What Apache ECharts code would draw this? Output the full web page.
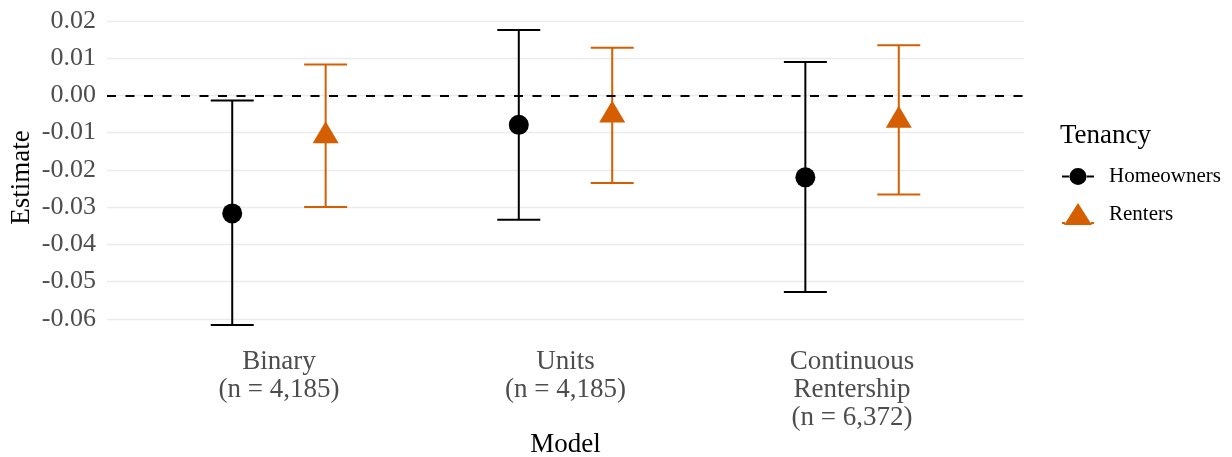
<!DOCTYPE html>
<html>
<head>
<meta charset="utf-8">
<script src="https://cdn.jsdelivr.net/npm/echarts@6/dist/echarts.min.js"></script>
<style>html,body{margin:0;padding:0;background:#fff}#c{width:1232px;height:457px}</style>
</head>
<body>
<div id="c"></div>
<script>
const categories = ['Binary\n(n = 4,185)', 'Units\n(n = 4,185)', 'Continuous\nRentership\n(n = 6,372)'];
const homeEst  = [-0.0317, -0.0079, -0.0220];
const homeLow  = [-0.0617, -0.0334, -0.0528];
const homeHigh = [-0.0014,  0.0176,  0.0090];
const rentEst  = [-0.0110, -0.0054, -0.0068];
const rentLow  = [-0.0300, -0.0235, -0.0266];
const rentHigh = [ 0.0083,  0.0128,  0.0135];
const yTicks = [-0.06, -0.05, -0.04, -0.03, -0.02, -0.01, 0, 0.01, 0.02];
const xTicks = [1, 2, 3];

const DODGE = 0.163;
const CAP = 0.075;
const FONT = '"Liberation Serif", "DejaVu Serif", serif';
const ORANGE = '#D55E00';

function errData(lo, hi, off) {
  return categories.map((c, i) => [i + 1 + off, lo[i], hi[i]]);
}
function ptData(est, off) {
  return categories.map((c, i) => [i + 1 + off, est[i]]);
}
function errRender(color) {
  return function (params, api) {
    const x = api.value(0);
    const top = api.coord([x, api.value(2)]);
    const bot = api.coord([x, api.value(1)]);
    const hw = api.size([CAP, 0])[0];
    const st = { stroke: color, lineWidth: 2 };
    return { type: 'group', children: [
      { type: 'line', shape: { x1: top[0], y1: top[1], x2: bot[0], y2: bot[1] }, style: st },
      { type: 'line', shape: { x1: top[0] - hw, y1: top[1], x2: top[0] + hw, y2: top[1] }, style: st },
      { type: 'line', shape: { x1: bot[0] - hw, y1: bot[1], x2: bot[0] + hw, y2: bot[1] }, style: st }
    ]};
  };
}

const chart = echarts.init(document.getElementById('c'), null, { renderer: 'canvas' });
chart.setOption({
  animation: false,
  backgroundColor: '#fff',
  textStyle: { fontFamily: FONT },
  grid: { left: 107, right: 208, top: 15, bottom: 117, outerBoundsMode: 'none', containLabel: false },
  title: {
    text: 'Tenancy', left: 1060, top: 122, padding: 0,
    textStyle: { fontFamily: FONT, fontSize: 27, fontWeight: 'normal', color: '#000' }
  },
  legend: {
    orient: 'vertical', left: 1062, top: 166, itemWidth: 32, itemHeight: 22, itemGap: 16,
    padding: 0,
    textStyle: { fontFamily: FONT, fontSize: 21, color: '#000', padding: [3, 0, 0, 10] },
    data: [
      { name: 'Homeowners', icon: 'path://M0,8h8v2h-8z M24,8h8v2h-8z M7.5,9a8.5,8.5 0 1,0 17,0a8.5,8.5 0 1,0 -17,0z', itemStyle: { color: '#000' } },
      { name: 'Renters', icon: 'path://M16,0L30,22L2,22z M0,19h3v2h-3z M29,19h3v2h-3z', itemStyle: { color: ORANGE } }
    ]
  },
  xAxis: {
    type: 'value', min: 0.4, max: 3.6,
    name: 'Model', nameLocation: 'middle', nameGap: 91, nameMoveOverlap: false,
    nameTextStyle: { fontFamily: FONT, fontSize: 27, color: '#000' },
    axisLine: { show: false }, axisTick: { show: false, customValues: xTicks },
    splitLine: { show: false },
    axisLabel: {
      customValues: xTicks, margin: 8, fontFamily: FONT, fontSize: 27, lineHeight: 28, color: '#4D4D4D',
      formatter: v => categories[Math.round(v) - 1]
    }
  },
  yAxis: {
    type: 'value', min: -0.0657, max: 0.0216,
    name: 'Estimate', nameLocation: 'middle', nameGap: 72, nameRotate: 90, nameMoveOverlap: false,
    nameTextStyle: { fontFamily: FONT, fontSize: 27, color: '#000' },
    axisLine: { show: false }, axisTick: { show: false, customValues: yTicks },
    splitLine: { show: true, lineStyle: { color: '#EBEBEB', width: 1.4 } },
    axisLabel: {
      customValues: yTicks, margin: 11, fontFamily: FONT, fontSize: 26, color: '#4D4D4D',
      formatter: v => v.toFixed(2)
    }
  },
  series: [
    {
      name: 'Homeowners', type: 'custom', renderItem: errRender('#000'),
      encode: { x: 0, y: [1, 2] }, data: errData(homeLow, homeHigh, -DODGE), z: 3,
      markLine: {
        silent: true, symbol: 'none', label: { show: false }, z: 4,
        lineStyle: { color: '#000', type: [9, 9.5], width: 2 },
        data: [{ yAxis: 0 }]
      }
    },
    {
      name: 'Renters', type: 'custom', renderItem: errRender(ORANGE),
      encode: { x: 0, y: [1, 2] }, data: errData(rentLow, rentHigh, DODGE), z: 3
    },
    {
      name: 'Homeowners', type: 'scatter', symbol: 'circle', symbolSize: 20,
      itemStyle: { color: '#000', opacity: 1 }, data: ptData(homeEst, -DODGE), z: 5
    },
    {
      name: 'Renters', type: 'scatter', symbol: 'triangle', symbolSize: [26, 22], symbolOffset: [0, -4],
      itemStyle: { color: ORANGE, opacity: 1 }, data: ptData(rentEst, DODGE), z: 5
    }
  ]
});
</script>
</body>
</html>
